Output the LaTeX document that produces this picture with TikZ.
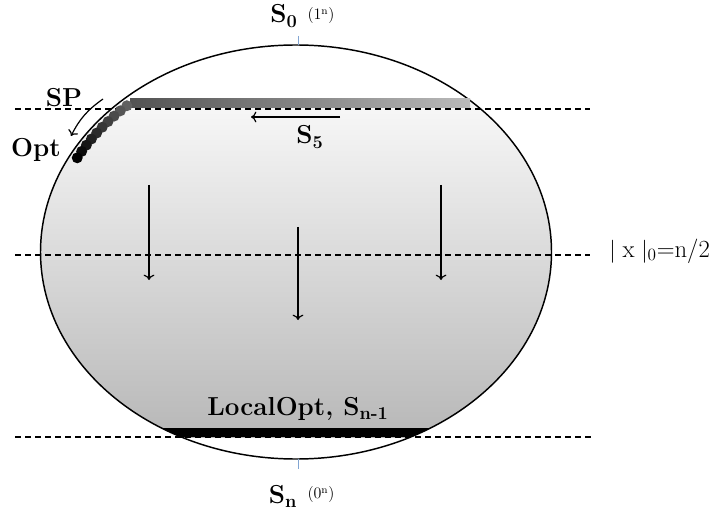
\documentclass[tikz,border=0pt]{standalone}
\usepackage{tikz}
\usetikzlibrary{calc,positioning,arrows.meta}

\definecolor{tickblue}{RGB}{130,165,210}
\tikzset{
	biglabel/.style={font=\bfseries\fontsize{19.5}{22}\selectfont, inner sep=0pt},
	smalllabel/.style={font=\fontsize{12}{14}\selectfont, inner sep=0pt},
	cutline/.style={line width=0.9pt, dash pattern=on 4.5pt off 3pt},
	move/.style={-{To[length=4pt, width=8pt]}, line width=0.9pt},
	tick/.style={draw=tickblue, line width=0.6pt}
}

\begin{document}
\begin{tikzpicture}[x=0.75pt, y=-0.75pt]
	\useasboundingbox (0, 0) rectangle (712, 516);
	\node (centre) at (296, 252) {};

	% shaded body of the ellipse
	\begin{scope}
		\clip (296, 252) ellipse [x radius=255.5, y radius=207];
		\shade[top color=black!3, bottom color=black!28] (30, 104) rectangle (560, 437);
		\fill[black] (30, 428) rectangle (560, 437);
	\end{scope}
	\draw[line width=1.1pt] (296, 252) ellipse [x radius=255.5, y radius=207];

	% levels
	\coordinate (topl) at (15, 109);
	\coordinate (topr) at (590, 109);
	\coordinate (midl) at (15, 255);
	\coordinate (midr) at (590, 255);
	\coordinate (botl) at (15, 437);
	\coordinate (botr) at (593, 437);
	\draw[cutline] (topl) -- (topr);
	\draw[cutline] (midl) -- (midr);
	\draw[cutline] (botl) -- (botr);
	\node[anchor=west, font=\fontsize{18.5}{20}\selectfont, inner sep=0pt] at (609, 251) (half) {$|$\;x\;$|$\textsubscript{0}=n/2};

	% top and bottom string
	\coordinate (ttop) at (298, 36);
	\coordinate (tbot) at (298, 45);
	\draw[tick] (ttop) -- (tbot);
	\node[biglabel] at (284, 16) (szero) {S\textsubscript{0}};
	\node[smalllabel] at (321, 16) (ones) {(1\textsuperscript{n})};

	\coordinate (btop) at (298, 459);
	\coordinate (bbot) at (298, 469);
	\draw[tick] (btop) -- (bbot);
	\node[biglabel] at (283, 496) (sn) {S\textsubscript{n}};
	\node[smalllabel] at (321, 495) (zeros) {(0\textsuperscript{n})};

	% level S5 and the path to the optimum
	\shade[left color=black!68, right color=black!27] (130, 99) rectangle (470, 108);
	\foreach \i [evaluate=\i as \t using 227-\i*2.1, evaluate=\i as \c using 62+\i*4.2] in {0,...,9}
		\fill[black!\c] ({296+248*cos(\t)}, {252+200*sin(\t)}) circle [radius=5.5];
	\node[biglabel] at (64, 98) (sp) {SP};
	\node[biglabel] at (36, 150) (opt) {Opt};
	\coordinate (spa) at (103, 99);
	\coordinate (spb) at (71, 136);
	\draw[move] (spa) to[bend right=14] (spb);

	\coordinate (sfive a) at (340, 117);
	\coordinate (sfive b) at (251, 117);
	\draw[move] (sfive a) -- (sfive b);
	\node[biglabel] at (310, 137) (sfive) {S\textsubscript{5}};

	% drift downwards
	\coordinate (d1a) at (149, 185);
	\coordinate (d1b) at (149, 280);
	\coordinate (d2a) at (298, 227);
	\coordinate (d2b) at (298, 320);
	\coordinate (d3a) at (441, 185);
	\coordinate (d3b) at (441, 280);
	\draw[move] (d1a) -- (d1b);
	\draw[move] (d2a) -- (d2b);
	\draw[move] (d3a) -- (d3b);

	\node[biglabel] at (298, 409) (localopt) {LocalOpt, S\textsubscript{n-1}};
\end{tikzpicture}
\end{document}
